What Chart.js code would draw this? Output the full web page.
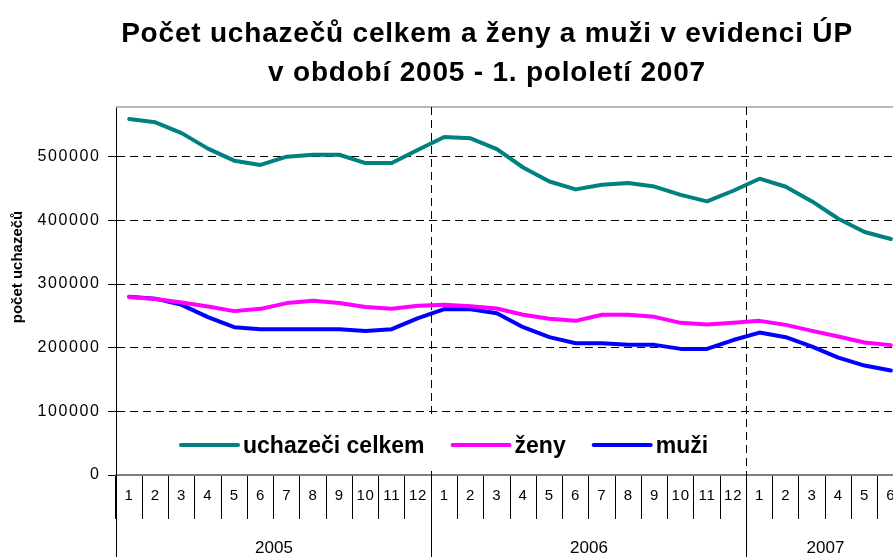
<!DOCTYPE html>
<html><head><meta charset="utf-8">
<script src="https://cdn.jsdelivr.net/npm/chart.js@4"></script>
<style>
html,body{margin:0;padding:0;overflow:hidden;background:#fff;width:893px;height:557px}
#wrap{position:absolute;left:0;top:0;width:974px;height:557px}
</style>
</head><body>
<div id="wrap"><canvas id="c" width="974" height="557"></canvas></div>
<script>
const months = ['1','2','3','4','5','6','7','8','9','10','11','12',
                '1','2','3','4','5','6','7','8','9','10','11','12',
                '1','2','3','4','5','6'];
const years = ['2005','2006','2007'];
const monthsPerYear = [12,12,6];
const celkem = [559000,554000,537000,512600,493700,487000,500000,503000,503000,490000,490000,511000,
                531000,528800,512000,483000,461000,448600,456000,458600,453000,440000,429700,446500,
                465400,452800,429700,402500,381600,370600];
const zeny   = [279400,276300,271000,264600,257400,261000,270000,273600,270000,264000,261000,265700,
                267300,265000,261500,251600,245300,242100,251600,251600,248400,239000,236400,239000,
                242100,235800,226400,217500,208000,204000];
const muzi   = [280000,277000,267300,248000,232200,229000,229000,229000,229000,226000,229000,246400,
                260500,260500,254200,232200,216500,207000,207000,204400,204400,198100,198100,212000,
                223700,216500,201700,184400,171900,164000];
const yTicks = [0,100000,200000,300000,400000,500000];
const titleLines = ['Počet uchazečů celkem a ženy a muži v evidenci ÚP','v období 2005 - 1. pololetí 2007'];
const yTitle = 'počet uchazečů';
const seriesNames = ['uchazeči celkem','ženy','muži'];
const seriesColors = ['#008080','#FF00FF','#0000FF'];
const FONT = "'Liberation Sans', Arial, sans-serif";

const decor = {
  id:'decor',
  afterLayout(chart){
    if (chart.titleBlock) chart.titleBlock.left = 70;
  },
  beforeDraw(chart){
    chart.ctx.letterSpacing = '0.8px';
  },
  beforeDatasetsDraw(chart){
    const {ctx, chartArea:a, scales:{x}} = chart;
    const step = x.getPixelForValue(1) - x.getPixelForValue(0);
    ctx.save();
    ctx.strokeStyle='#a0a0a0'; ctx.lineWidth=1.5;
    ctx.beginPath(); ctx.moveTo(a.left,a.top); ctx.lineTo(a.right,a.top); ctx.stroke();
    ctx.strokeStyle='#000'; ctx.lineWidth=1; ctx.setLineDash([8,5]);
    let idx=0;
    for (let i=0;i<monthsPerYear.length-1;i++){
      idx+=monthsPerYear[i];
      const px=Math.round(x.getPixelForValue(idx)-step/2)+0.5;
      ctx.beginPath(); ctx.moveTo(px,a.top); ctx.lineTo(px,a.bottom); ctx.stroke();
    }
    ctx.restore();
  },
  afterDatasetsDraw(chart){
    chart.ctx.letterSpacing = '1.6px';
  },
  afterDraw(chart){
    const {ctx, chartArea:a, scales:{x}} = chart;
    ctx.letterSpacing = '0px';
    const step = x.getPixelForValue(1) - x.getPixelForValue(0);
    ctx.save();
    ctx.strokeStyle='#000'; ctx.lineWidth=1;
    let idx=0;
    const bnd = (i)=>Math.round(x.getPixelForValue(i)-step/2)+0.5;
    ctx.beginPath(); ctx.moveTo(bnd(0),a.bottom); ctx.lineTo(bnd(0),chart.height); ctx.stroke();
    ctx.fillStyle='#000'; ctx.font='17px '+FONT; ctx.textAlign='center'; ctx.textBaseline='middle';
    for (let i=0;i<years.length;i++){
      const s=idx; idx+=monthsPerYear[i];
      const l=bnd(s), r=bnd(idx);
      ctx.beginPath(); ctx.moveTo(r,a.bottom); ctx.lineTo(r,chart.height); ctx.stroke();
      ctx.fillText(years[i],(l+r)/2,548);
    }
    ctx.save();
    ctx.translate(18,267); ctx.rotate(-Math.PI/2);
    ctx.font='bold 15px '+FONT; ctx.fillText(yTitle,0,0);
    ctx.restore();
    ctx.fillStyle='#fff'; ctx.fillRect(172,419,548,48);
    let lx=181; const ly=445;
    ctx.font='bold 23px '+FONT; ctx.textAlign='left'; ctx.textBaseline='alphabetic';
    chart.data.datasets.forEach((ds)=>{
      ctx.strokeStyle=ds.borderColor; ctx.lineWidth=4; ctx.lineCap='round';
      ctx.beginPath(); ctx.moveTo(lx,ly); ctx.lineTo(lx+57,ly); ctx.stroke();
      ctx.fillStyle='#000';
      ctx.fillText(ds.label,lx+62,452.5);
      lx += 62 + ctx.measureText(ds.label).width + 28;
    });
    ctx.restore();
  }
};

new Chart(document.getElementById('c'),{
  type:'line',
  data:{
    labels: months,
    datasets:[
      {label:seriesNames[0], data:celkem, borderColor:seriesColors[0]},
      {label:seriesNames[1], data:zeny, borderColor:seriesColors[1]},
      {label:seriesNames[2], data:muzi, borderColor:seriesColors[2]}
    ].map(d=>Object.assign(d,{borderWidth:4,pointRadius:0,tension:0,fill:false,borderJoinStyle:'round',borderCapStyle:'round'}))
  },
  options:{
    responsive:false, animation:false, devicePixelRatio:1,
    layout:{padding:{left:0,right:70,top:0,bottom:0}},
    plugins:{
      legend:{display:false}, tooltip:{enabled:false},
      title:{display:true, text:titleLines, color:'#000',
        font:{size:28, weight:'bold', family:FONT, lineHeight:1.393},
        padding:{top:14.5,bottom:14.5}}
    },
    scales:{
      x:{ type:'category', offset:true,
        grid:{offset:true, drawOnChartArea:false, drawTicks:true, tickLength:44, tickColor:'#000', tickWidth:1, color:'#000'},
        border:{display:true, color:'#808080', width:2},
        ticks:{autoSkip:false, maxRotation:0, minRotation:0, padding:-32, color:'#000', font:{size:15, family:FONT}},
        afterFit(s){ s.height = 82; }
      },
      y:{ min:0, max:578000,
        afterBuildTicks(s){ s.ticks = yTicks.map(v=>({value:v})); },
        afterFit(s){ s.width = 116; },
        ticks:{z:1, color:'#000', font:{size:16, family:FONT}, padding:7.4, callback:v=>String(v)},
        grid:{color:'#000', lineWidth:1, tickLength:8, tickColor:'#000', drawTicks:true},
        border:{display:true, color:'#000', width:1, dash:[8,5]}
      }
    }
  },
  plugins:[decor]
});
</script>
</body></html>
